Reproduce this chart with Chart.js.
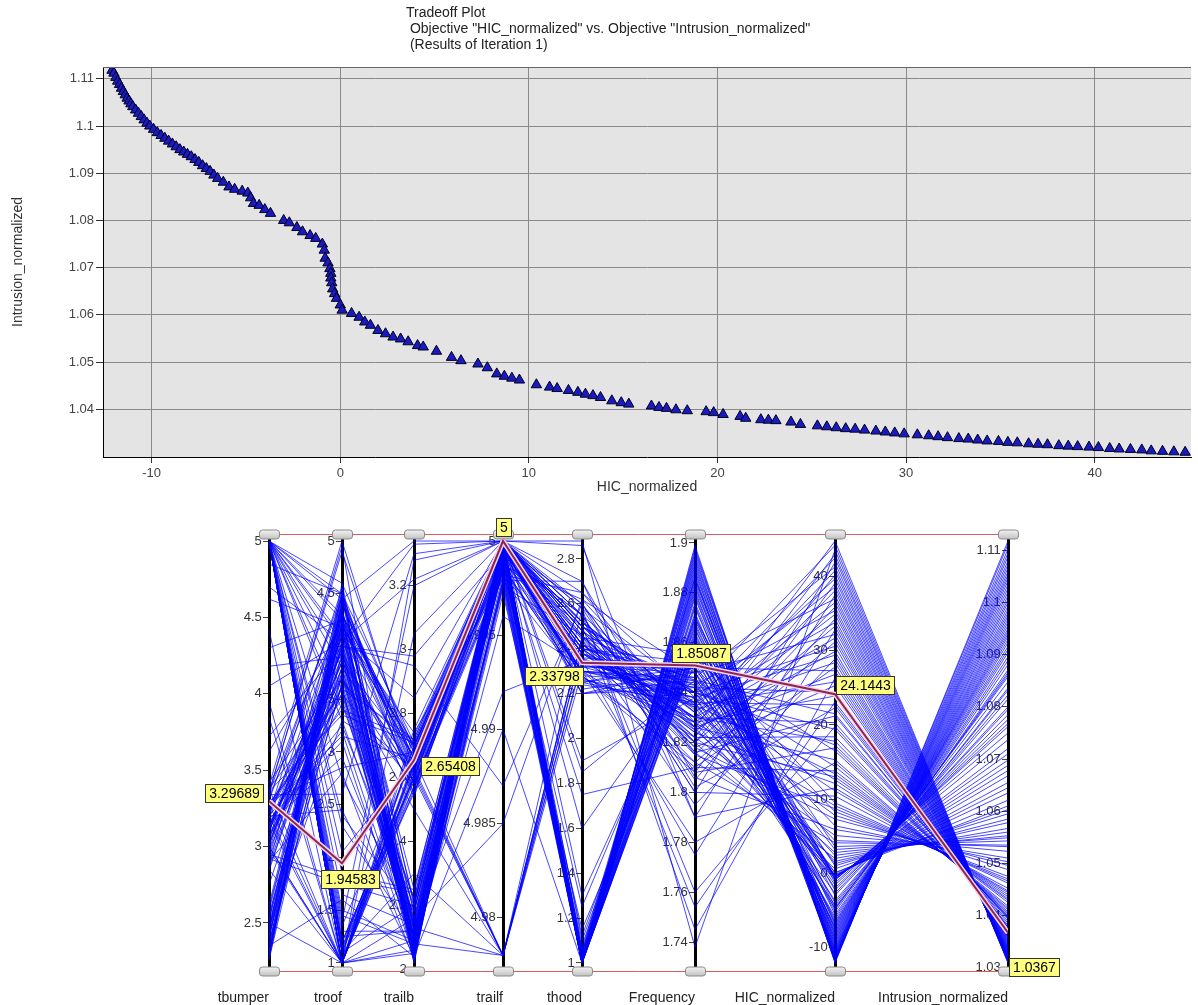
<!DOCTYPE html>
<html>
<head>
<meta charset="utf-8">
<script src="https://cdn.jsdelivr.net/npm/chart.js@4.4.0/dist/chart.umd.min.js"></script>
<style>
  body { margin: 0; background: #fff; width: 1198px; height: 1005px; overflow: hidden; }
  .wrap { position: absolute; left: 0; width: 1198px; height: 505px; }
</style>
</head>
<body>
<div class="wrap" style="top:0"><canvas id="tradeoffCanvas" width="1198" height="505"></canvas></div>
<div class="wrap" style="top:500px"><canvas id="parallelCanvas" width="1198" height="505"></canvas></div>
<script>
// designs of iteration 1, ordered by HIC
const hicValues = [
  -12.1, -12.0, -11.9, -11.8, -11.7, -11.6, -11.5, -11.4, -11.3, -11.2,
  -11.1, -11.0, -10.85, -10.7, -10.55, -10.4, -10.25, -10.1, -9.9, -9.7,
  -9.5, -9.3, -9.1, -8.9, -8.7, -8.5, -8.3, -8.1, -7.9, -7.7,
  -7.5, -7.3, -7.1, -6.9, -6.7, -6.5, -6.2, -5.9, -5.6, -5.2,
  -4.9, -4.75, -4.6, -4.3, -4.0, -3.7, -3.0, -2.7, -2.3, -2.0,
  -1.6, -1.3, -0.95, -0.85, -0.8, -0.65, -0.55, -0.5, -0.5, -0.45,
  -0.4, -0.3, -0.2, 0.0, 0.1, 0.6, 1.0, 1.3, 1.6, 2.0,
  2.4, 2.8, 3.2, 3.6, 4.1, 4.4, 5.1, 5.9, 6.4, 7.3,
  7.8, 8.3, 8.7, 9.1, 9.5, 10.4, 11.1, 11.5, 12.1, 12.6,
  13.0, 13.4, 13.8, 14.4, 14.9, 15.3, 16.5, 16.9, 17.3, 17.8,
  18.4, 19.4, 19.8, 20.3, 21.2, 21.5, 22.3, 22.7, 23.1, 23.9,
  24.4, 25.3, 25.8, 26.3, 26.8, 27.3, 27.8, 28.4, 28.9, 29.4,
  29.9, 30.6, 31.2, 31.7, 32.2, 32.8, 33.3, 33.8, 34.3, 34.9,
  35.4, 35.9, 36.5, 37.0, 37.5, 38.1, 38.6, 39.1, 39.7, 40.2,
  40.8, 41.3, 41.9, 42.5, 43.0, 43.6, 44.2, 44.8
];
const intrusionValues = [
  1.1118, 1.1112, 1.1103, 1.1095, 1.1088, 1.1080, 1.1073, 1.1066, 1.1059, 1.1053,
  1.1047, 1.1041, 1.1034, 1.1027, 1.1020, 1.1013, 1.1006, 1.1000, 1.0993, 1.0986,
  1.0980, 1.0974, 1.0968, 1.0962, 1.0956, 1.0950, 1.0945, 1.0940, 1.0935, 1.0929,
  1.0923, 1.0916, 1.0910, 1.0904, 1.0896, 1.0889, 1.0881, 1.0871, 1.0866, 1.0862,
  1.0858, 1.0848, 1.0836, 1.0832, 1.0823, 1.0815, 1.0800, 1.0795, 1.0785, 1.0776,
  1.0768, 1.0762, 1.0750, 1.0737, 1.0720, 1.0710, 1.0698, 1.0688, 1.0678, 1.0668,
  1.0655, 1.0645, 1.0635, 1.0621, 1.0610, 1.0603, 1.0595, 1.0585, 1.0578, 1.0567,
  1.0560, 1.0553, 1.0549, 1.0543, 1.0535, 1.0532, 1.0523, 1.0510, 1.0503, 1.0496,
  1.0488, 1.0475, 1.0470, 1.0466, 1.0462, 1.0452, 1.0447, 1.0444, 1.0440, 1.0436,
  1.0432, 1.0429, 1.0425, 1.0418, 1.0414, 1.0411, 1.0407, 1.0404, 1.0402, 1.0399,
  1.0397, 1.0395, 1.0393, 1.0389, 1.0385, 1.0381, 1.0378, 1.0377, 1.0376, 1.0373,
  1.0368, 1.0365, 1.0363, 1.0361, 1.0359, 1.0358, 1.0356, 1.0354, 1.0352, 1.0350,
  1.0348, 1.0346, 1.0344, 1.0342, 1.0340, 1.0338, 1.0337, 1.0335, 1.0333, 1.0332,
  1.0330, 1.0329, 1.0327, 1.0326, 1.0325, 1.0323, 1.0322, 1.0321, 1.0320, 1.0319,
  1.0317, 1.0316, 1.0315, 1.0314, 1.0312, 1.0311, 1.0310, 1.0309
];
const tbumperValues = [
  2.31, 5, 3.12, 2.45, 5, 2.98, 3.35, 2.26, 5, 3.05,
  2.42, 3.22, 5, 4.62, 3.01, 2.3, 5, 3.28, 2.55, 3.15,
  2.88, 5, 3.38, 2.27, 2.95, 5, 3.1, 4.18, 3.2, 2.4,
  5, 2.75, 3.3, 2.35, 5, 3.0, 2.5, 3.42, 5, 2.85,
  3.25, 2.29, 5, 2.9, 3.12, 2.48, 5, 3.35, 3.95, 3.05,
  5, 2.62, 3.18, 2.33, 5, 2.97, 3.4, 2.52, 5, 3.08,
  2.44, 5, 3.22, 4.42, 5, 3.32, 2.38, 2.92, 5, 3.15,
  2.58, 5, 3.02, 2.28, 3.38, 5, 3.72, 3.12, 2.46, 5,
  3.28, 2.36, 5, 2.88, 3.0, 5, 2.54, 3.36, 4.85, 5,
  2.93, 3.2, 2.3, 5, 3.1, 4.05, 5, 3.26, 2.4, 3.0,
  5, 2.6, 3.14, 2.26, 5, 3.3, 2.84, 5, 2.5, 3.18,
  2.98, 5, 3.24, 2.42, 5, 3.06, 3.62, 5, 3.34, 2.32,
  5, 2.86, 3.16, 5, 4.3, 3.28, 5, 2.94, 2.36, 5,
  3.12, 2.46, 5, 3.36, 4.7, 5, 3.04, 2.3, 5, 3.2,
  2.52, 5, 3.22, 3.85, 5, 3.1, 2.4, 5
];
const troofValues = [
  4.12, 4.6, 3.86, 4.41, 1.45, 4.05, 4.95, 3.95, 3.9, 4.28,
  3.72, 4.55, 1.12, 4.18, 3.98, 4.36, 2.3, 1.0, 4.02, 3.62,
  4.48, 1.0, 3.55, 4.22, 1.8, 4.25, 4.1, 3.9, 1.0, 4.3,
  1.1, 3.8, 4.5, 1.6, 3.4, 4.2, 1.0, 3.7, 2.4, 1.0,
  3.6, 4.4, 1.85, 2.8, 4.15, 3.3, 1.2, 4.45, 1.0, 3.85,
  3.6, 4.25, 3.1, 4.6, 1.4, 3.75, 5, 4.05, 1.0, 3.45,
  4.35, 4.45, 3.95, 1.0, 1.15, 4.3, 3.65, 1.75, 4.1, 2.95,
  4.2, 2.75, 3.8, 4.55, 1.0, 1.3, 4.0, 3.2, 4.4, 1.1,
  3.5, 4.3, 4.05, 3.9, 1.0, 1.2, 4.15, 3.35, 4.5, 1.0,
  3.7, 2.45, 4.25, 1.65, 3.85, 4.05, 1.5, 3.15, 4.35, 1.0,
  3.3, 4.15, 3.6, 4.5, 1.25, 2.85, 4.0, 1.0, 3.75, 4.3,
  1.0, 4.3, 3.95, 4.4, 1.15, 3.55, 4.2, 1.0, 2.6, 4.45,
  2.05, 3.8, 1.0, 1.1, 4.25, 3.4, 1.0, 4.1, 3.65, 1.35,
  3.9, 4.5, 3.8, 4.9, 4.05, 1.2, 3.55, 4.3, 1.0, 3.25,
  4.2, 4.5, 3.7, 1.0, 1.1, 4.0, 4.45, 1.0
];
const trailbValues = [
  2.05, 2.12, 2.03, 2.62, 2.08, 2.18, 2.04, 2.55, 2.1, 2.06,
  2.15, 2.02, 2.68, 2.09, 2.04, 2.21, 2.11, 2.64, 2.07, 2.03,
  2.13, 2.06, 2.58, 2.02, 2.24, 2.1, 2.7, 2.05, 2.16, 2.03,
  2.2, 2.63, 2.08, 2.04, 2.72, 2.12, 2.05, 2.5, 2.18, 2.66,
  2.07, 2.6, 2.25, 2.03, 2.74, 2.14, 2.55, 3.34, 2.09, 2.67,
  2.11, 2.58, 2.04, 2.69, 3.2, 2.16, 2.62, 2.06, 2.73, 2.22,
  2.05, 2.64, 2.13, 3.28, 2.57, 2.08, 2.7, 2.2, 2.61, 2.1,
  2.66, 2.18, 2.6, 2.04, 2.75, 2.12, 2.98, 2.07, 2.63, 2.3,
  2.1, 2.68, 2.54, 2.16, 3.05, 2.6, 2.06, 2.71, 2.2, 2.65,
  2.57, 2.04, 2.7, 2.14, 2.62, 3.33, 2.09, 2.66, 2.25, 2.59,
  2.63, 2.08, 2.72, 2.55, 2.12, 2.68, 2.95, 2.6, 2.05, 2.7,
  2.61, 2.58, 2.14, 2.66, 2.64, 2.22, 2.69, 2.57, 3.3, 2.1,
  2.65, 2.06, 2.7, 2.6, 2.18, 2.63, 2.56, 2.85, 2.12, 2.67,
  2.59, 2.71, 2.15, 2.64, 3.22, 2.6, 2.08, 2.68, 2.62, 2.2,
  2.66, 2.58, 2.1, 2.7, 2.63, 2.05, 2.61, 2.65
];
const trailfValues = [
  5, 4.9988, 4.9995, 5, 4.9998, 5, 4.998, 4.9993, 5, 5,
  4.9985, 5, 5, 4.9996, 4.9978, 5, 4.9992, 5, 5, 4.9997,
  5, 4.9994, 4.9982, 5, 4.999, 5, 5, 4.9975, 4.9985, 5,
  5, 4.9989, 4.978, 5, 5, 4.9996, 4.9972, 4.978, 5, 5,
  4.9987, 5, 4.9998, 5, 4.998, 4.992, 5, 5, 4.9991, 4.9997,
  5, 4.9983, 5, 4.9993, 5, 4.985, 5, 4.9977, 5, 5,
  4.999, 5, 4.978, 5, 4.9995, 5, 4.9984, 4.9996, 5, 5,
  5, 4.9988, 5, 4.99, 5, 5, 4.9994, 4.9979, 5, 4.978,
  5, 4.9986, 4.9997, 5, 5, 4.9992, 4.996, 5, 5, 4.9998,
  4.9981, 5, 4.9995, 5, 4.978, 5, 4.9989, 4.9996, 5, 5,
  5, 4.9993, 5, 4.9992, 4.9976, 5, 4.987, 5, 5, 4.9997,
  5, 5, 4.9986, 4.978, 5, 5, 4.999, 4.9994, 5, 4.9982,
  5, 5, 4.9996, 5, 4.9987, 4.978, 5, 5, 4.9993, 5,
  4.9984, 4.9995, 5, 5, 5, 4.978, 4.9979, 5, 4.9997, 5,
  5, 4.9988, 5, 4.9994, 5, 5, 4.978, 5
];
const thoodValues = [
  1.0, 1.02, 1.0, 1.05, 1.0, 1.01, 1.0, 1.03, 1.0, 1.0,
  1.0, 1.0, 1.04, 1.0, 1.02, 1.0, 1.0, 1.06, 1.0, 1.01,
  1.0, 1.03, 1.0, 1.0, 1.12, 1.0, 1.02, 1.0, 1.25, 1.0,
  1.0, 1.08, 2.45, 1.0, 1.3, 1.0, 1.15, 2.4, 1.0, 1.05,
  1.0, 2.3, 1.02, 1.9, 1.0, 2.35, 1.1, 2.5, 1.0, 2.28,
  2.4, 1.0, 2.55, 2.2, 1.05, 2.62, 2.32, 1.0, 2.48, 2.25,
  1.0, 2.38, 2.45, 1.6, 2.3, 2.52, 1.0, 2.42, 2.27, 2.6,
  2.35, 2.5, 2.22, 1.0, 2.4, 2.58, 2.3, 2.7, 1.85, 2.44,
  2.48, 2.25, 2.6, 2.38, 1.0, 2.55, 2.32, 2.86, 2.42, 2.2,
  2.36, 2.52, 1.75, 2.45, 2.3, 2.65, 2.4, 2.28, 2.5, 2.34,
  2.42, 2.3, 2.55, 2.38, 2.46, 2.2, 2.6, 2.35, 2.5, 2.27,
  2.33, 2.48, 2.25, 2.58, 2.4, 2.36, 2.3, 2.52, 2.44, 2.65,
  2.38, 2.5, 2.28, 2.42, 2.62, 2.35, 2.46, 2.24, 2.55, 2.4,
  2.3, 2.45, 2.52, 2.32, 2.7, 2.4, 2.26, 2.58, 2.36, 2.48,
  2.42, 2.3, 2.55, 2.38, 2.46, 2.88, 2.34, 2.5
];
const frequencyValues = [
  1.899, 1.895, 1.892, 1.886, 1.898, 1.889, 1.894, 1.881, 1.897, 1.890,
  1.887, 1.884, 1.893, 1.879, 1.896, 1.883, 1.875, 1.891, 1.880, 1.886,
  1.878, 1.888, 1.872, 1.885, 1.866, 1.882, 1.870, 1.876, 1.862, 1.874,
  1.868, 1.860, 1.855, 1.871, 1.858, 1.864, 1.852, 1.848, 1.867, 1.857,
  1.861, 1.845, 1.869, 1.838, 1.856, 1.842, 1.863, 1.836, 1.859, 1.844,
  1.846, 1.865, 1.832, 1.850, 1.870, 1.828, 1.848, 1.862, 1.834, 1.853,
  1.858, 1.840, 1.826, 1.850, 1.838, 1.820, 1.855, 1.843, 1.830, 1.816,
  1.835, 1.825, 1.848, 1.860, 1.812, 1.840, 1.822, 1.806, 1.845, 1.818,
  1.832, 1.850, 1.815, 1.828, 1.856, 1.800, 1.838, 1.790, 1.824, 1.842,
  1.820, 1.835, 1.810, 1.845, 1.780, 1.826, 1.852, 1.808, 1.840, 1.830,
  1.822, 1.840, 1.760, 1.830, 1.816, 1.845, 1.802, 1.836, 1.754, 1.828,
  1.842, 1.818, 1.835, 1.745, 1.826, 1.850, 1.810, 1.833, 1.795, 1.838,
  1.825, 1.840, 1.812, 1.830, 1.848, 1.775, 1.820, 1.836, 1.805, 1.828,
  1.843, 1.815, 1.832, 1.850, 1.790, 1.824, 1.838, 1.808, 1.834, 1.820,
  1.830, 1.846, 1.800, 1.836, 1.822, 1.738, 1.840, 1.826
];

// tradeoff plot axes
const hicTicks = [-10, 0, 10, 20, 30, 40];
const intrusionTicks = [1.04, 1.05, 1.06, 1.07, 1.08, 1.09, 1.1, 1.11];
const titleLines = ['Tradeoff Plot', ' Objective "HIC_normalized" vs. Objective "Intrusion_normalized"', ' (Results of Iteration 1)'];

// parallel coordinates axes
const axisNames = ['tbumper', 'troof', 'trailb', 'trailf', 'thood', 'Frequency', 'HIC_normalized', 'Intrusion_normalized'];
const axisLow = [2.238, 1, 2.02, 4.9776, 1, 1.7316, -12.1, 1.0309];
const axisHigh = [5, 5, 3.34, 5, 2.88, 1.9008, 44.8, 1.1118];
const axisTickValues = [
  [2.5, 3, 3.5, 4, 4.5, 5],
  [1, 1.5, 2, 2.5, 3, 3.5, 4, 4.5, 5],
  [2, 2.2, 2.4, 2.6, 2.8, 3, 3.2],
  [4.98, 4.985, 4.99, 4.995, 5],
  [1, 1.2, 1.4, 1.6, 1.8, 2, 2.2, 2.4, 2.6, 2.8],
  [1.74, 1.76, 1.78, 1.8, 1.82, 1.84, 1.86, 1.88, 1.9],
  [-10, 0, 10, 20, 30, 40],
  [1.03, 1.04, 1.05, 1.06, 1.07, 1.08, 1.09, 1.1, 1.11]
];
// selected design (the highlighted polyline)
const selectedDesign = [3.29689, 1.94583, 2.65408, 5, 2.33798, 1.85087, 24.1443, 1.0367];

const columns = [tbumperValues, troofValues, trailbValues, trailfValues, thoodValues, frequencyValues, hicValues, intrusionValues];

// layout of the parallel plot
const axisSlot = [0, 73, 145, 234, 313, 426, 566, 739];
const normMin = -0.019, normMax = 1.0166;
const labelOffsets = [[-64, -17], [-21, 7], [7, -3], [-7, -23], [-57, 4], [-23, -22], [1, -18], [1, 25]];

const fontFamily = "'Liberation Sans', Arial, sans-serif";
Chart.defaults.font.family = fontFamily;

const normalize = (k, v) => (v - axisLow[k]) / (axisHigh[k] - axisLow[k]);

// ---------- top: tradeoff scatter ----------
const plotFrame = {
  id: 'plotFrame',
  beforeDraw(chart) {
    const { ctx, chartArea: a } = chart;
    ctx.save();
    ctx.fillStyle = '#e4e4e4';
    ctx.fillRect(a.left, a.top, a.right - a.left, a.bottom - a.top);
    ctx.restore();
  },
  afterDraw(chart) {
    const { ctx, chartArea: a } = chart;
    ctx.save();
    ctx.strokeStyle = '#666';
    ctx.lineWidth = 1;
    ctx.beginPath();
    ctx.moveTo(a.left, a.top + 0.5);
    ctx.lineTo(a.right, a.top + 0.5);
    ctx.stroke();
    ctx.fillStyle = '#222';
    ctx.font = '14px ' + fontFamily;
    ctx.textBaseline = 'middle';
    titleLines.forEach((t, i) => ctx.fillText(t, 406, 13 + i * 16));
    ctx.restore();
  }
};

new Chart(document.getElementById('tradeoffCanvas'), {
  type: 'scatter',
  data: {
    datasets: [{
      data: hicValues.map((h, i) => ({ x: h, y: intrusionValues[i] })),
      pointStyle: 'triangle',
      radius: 6,
      backgroundColor: '#1a1abf',
      borderColor: '#000022',
      borderWidth: 1
    }]
  },
  options: {
    responsive: false,
    animation: false,
    devicePixelRatio: 1,
    layout: { padding: { top: 67, left: 0, right: 0, bottom: 0 } },
    plugins: { legend: { display: false }, tooltip: { enabled: false } },
    scales: {
      x: {
        type: 'linear',
        min: -12.58,
        max: 45.11,
        afterBuildTicks: s => { s.ticks = hicTicks.map(v => ({ value: v })); },
        afterFit: s => { s.height = 48; },
        grid: { color: '#8a8a8a', tickColor: '#333', tickLength: 6 },
        border: { color: '#000', width: 1 },
        ticks: { color: '#444', font: { size: 13 }, padding: 3, maxRotation: 0 },
        title: { display: true, text: 'HIC_normalized', color: '#333', font: { size: 14 }, padding: { top: 0, bottom: 9 } }
      },
      y: {
        min: 1.0299,
        max: 1.1125,
        afterBuildTicks: s => { s.ticks = intrusionTicks.map(v => ({ value: v })); },
        afterFit: s => { s.width = 103; },
        grid: { color: '#8a8a8a', tickColor: '#333', tickLength: 7 },
        border: { color: '#000', width: 1 },
        ticks: { color: '#444', font: { size: 13 }, padding: 2, callback: v => String(Number(v.toFixed(2))) },
        title: { display: true, text: 'Intrusion_normalized', color: '#333', font: { size: 14 }, padding: { top: 10, bottom: 0 } }
      }
    }
  },
  plugins: [plotFrame]
});

// ---------- bottom: parallel coordinates ----------
const drawHandle = (ctx, x, y) => {
  const w = 20, h = 9, r = 3;
  const g = ctx.createLinearGradient(0, y - h / 2, 0, y + h / 2);
  g.addColorStop(0, '#f6f6f6');
  g.addColorStop(1, '#c4c4c4');
  ctx.beginPath();
  ctx.roundRect(x - w / 2 + 0.5, y - h / 2 + 0.5, w, h, r);
  ctx.fillStyle = g;
  ctx.fill();
  ctx.strokeStyle = '#8a8a8a';
  ctx.lineWidth = 1;
  ctx.stroke();
};

const parallelDecor = {
  id: 'parallelDecor',
  afterDraw(chart) {
    const { ctx, chartArea: a } = chart;
    const xs = chart.scales.x, ys = chart.scales.yN;
    ctx.save();
    ctx.strokeStyle = '#dc5c5c';
    ctx.lineWidth = 1;
    [a.top, a.bottom].forEach(y => {
      ctx.beginPath();
      ctx.moveTo(xs.getPixelForValue(axisSlot[0]), y + 0.5);
      ctx.lineTo(xs.getPixelForValue(axisSlot[axisSlot.length - 1]), y + 0.5);
      ctx.stroke();
    });
    axisSlot.forEach(s => {
      const px = xs.getPixelForValue(s);
      drawHandle(ctx, px, a.top);
      drawHandle(ctx, px, a.bottom);
    });
    // value boxes of the selected design
    ctx.font = '14px ' + fontFamily;
    ctx.textBaseline = 'middle';
    ctx.textAlign = 'center';
    selectedDesign.forEach((v, k) => {
      const px = xs.getPixelForValue(axisSlot[k]);
      const py = ys.getPixelForValue(normalize(k, v));
      const text = String(v);
      const w = Math.round(ctx.measureText(text).width) + 7, h = 18;
      const bx = Math.round(px + labelOffsets[k][0]), by = Math.round(py + labelOffsets[k][1]);
      ctx.fillStyle = '#ffff80';
      ctx.fillRect(bx + 0.5, by + 0.5, w, h);
      ctx.strokeStyle = '#333';
      ctx.strokeRect(bx + 0.5, by + 0.5, w, h);
      ctx.fillStyle = '#000';
      ctx.fillText(text, bx + 0.5 + w / 2, by + 1 + h / 2);
    });
    ctx.restore();
  }
};

const designSets = hicValues.map((h, i) => ({
  data: columns.map((col, k) => ({ x: axisSlot[k], y: normalize(k, col[i]) })),
  borderColor: 'rgba(0, 0, 255, 0.72)',
  borderWidth: 1,
  pointRadius: 0,
  fill: false,
  tension: 0,
  order: 0,
  yAxisID: 'yN'
}));
const selectedPoints = selectedDesign.map((v, k) => ({ x: axisSlot[k], y: normalize(k, v) }));
// halo then core, both drawn above the other designs
designSets.push({ data: selectedPoints, borderColor: '#f3d6e6', borderWidth: 5, pointRadius: 0, fill: false, order: -1, yAxisID: 'yN' });
designSets.push({ data: selectedPoints, borderColor: '#8e2454', borderWidth: 2, pointRadius: 0, fill: false, order: -2, yAxisID: 'yN' });

const parallelScales = {
  x: {
    type: 'linear',
    min: axisSlot[0],
    max: axisSlot[axisSlot.length - 1],
    afterBuildTicks: s => { s.ticks = axisSlot.map(v => ({ value: v })); },
    afterFit: s => { s.height = 34; },
    grid: { display: false, drawTicks: false },
    border: { display: false },
    ticks: { color: '#222', font: { size: 14 }, padding: 19, align: 'end', autoSkip: false, maxRotation: 0,
      callback: (v, i) => axisNames[i] }
  },
  yN: { type: 'linear', display: false, min: normMin, max: normMax }
};
axisNames.forEach((name, k) => {
  const span = axisHigh[k] - axisLow[k];
  parallelScales['y' + k] = {
    axis: 'y',
    type: 'linear',
    position: { x: axisSlot[k] },
    min: axisLow[k] + normMin * span,
    max: axisLow[k] + normMax * span,
    afterBuildTicks: s => { s.ticks = axisTickValues[k].map(v => ({ value: v })); },
    grid: { drawOnChartArea: false, tickLength: 5, tickColor: '#444' },
    border: { color: '#000', width: 3 },
    ticks: { color: '#333', font: { size: 13 }, callback: v => v + '  ' }
  };
});

new Chart(document.getElementById('parallelCanvas'), {
  type: 'line',
  data: { datasets: designSets },
  options: {
    responsive: false,
    animation: false,
    devicePixelRatio: 1,
    layout: { padding: { top: 34, left: 269, right: 190, bottom: 0 } },
    plugins: { legend: { display: false }, tooltip: { enabled: false } },
    scales: parallelScales
  },
  plugins: [parallelDecor]
});
</script>
</body>
</html>
